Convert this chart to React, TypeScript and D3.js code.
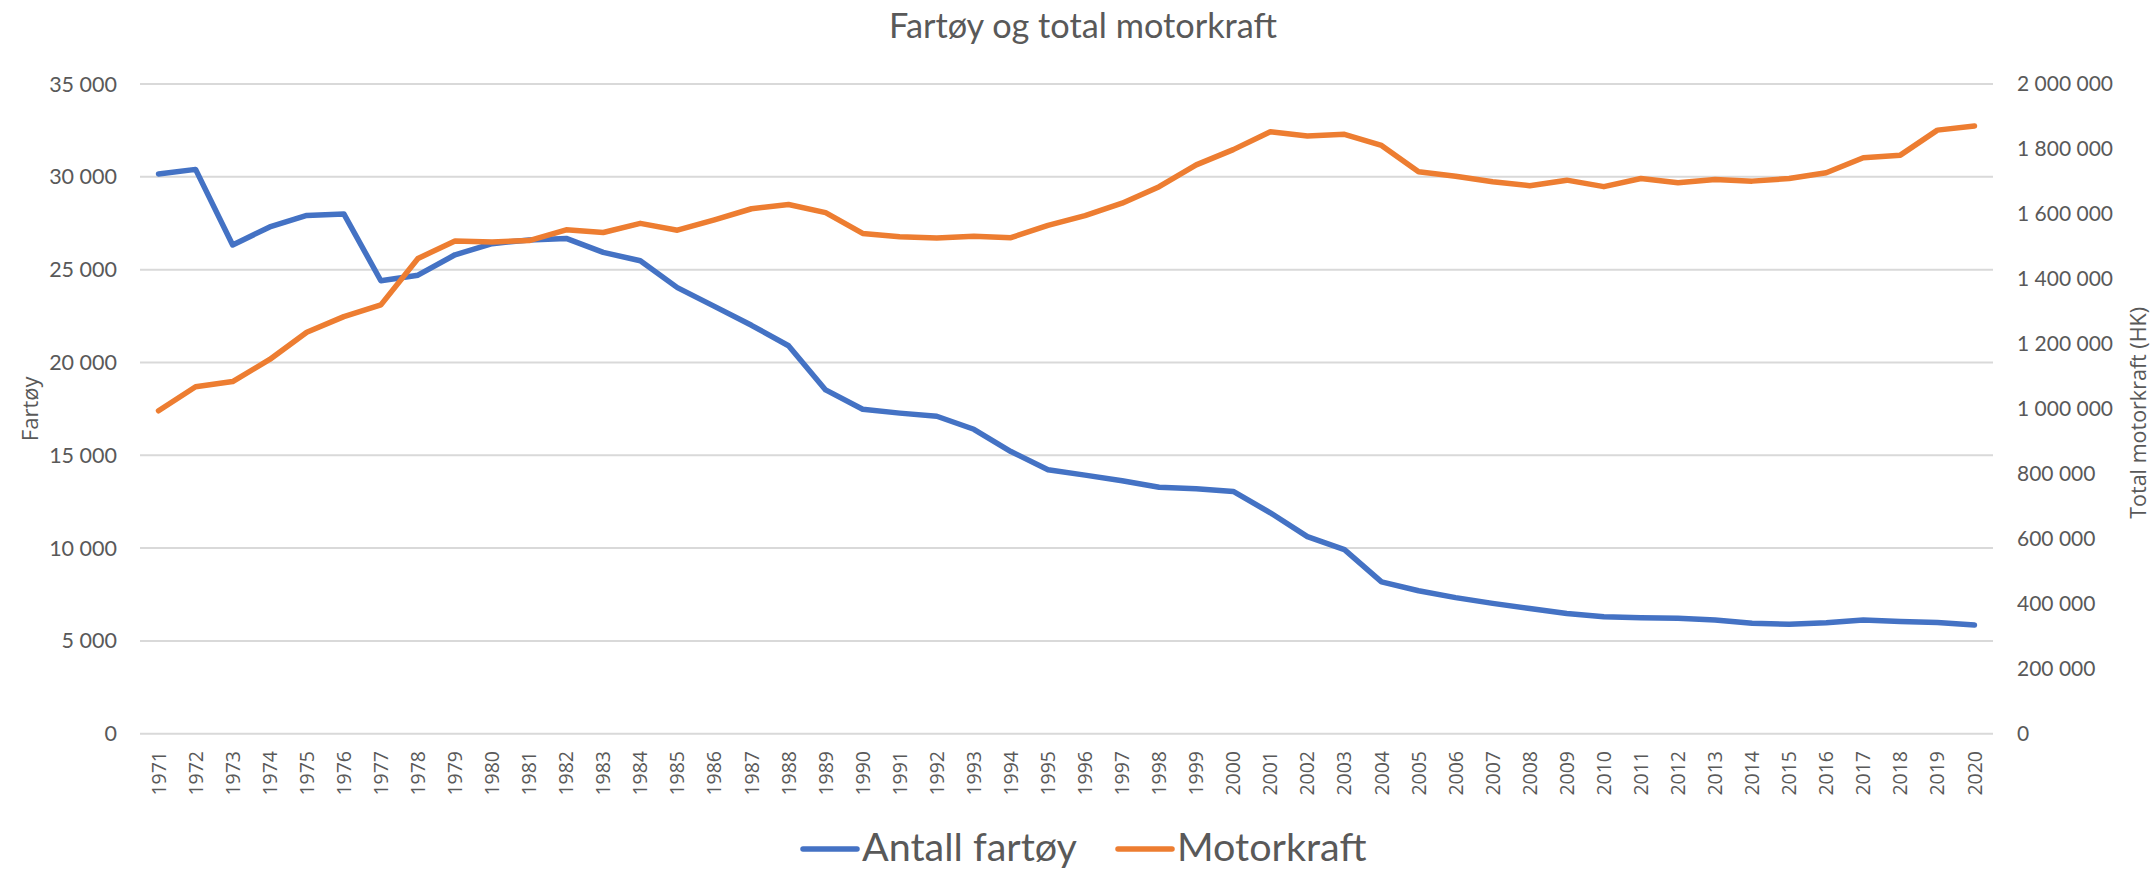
import React from "react";
import * as d3 from "d3";

const years: string[] = [
  "1971","1972","1973","1974","1975","1976","1977","1978","1979","1980",
  "1981","1982","1983","1984","1985","1986","1987","1988","1989","1990",
  "1991","1992","1993","1994","1995","1996","1997","1998","1999","2000",
  "2001","2002","2003","2004","2005","2006","2007","2008","2009","2010",
  "2011","2012","2013","2014","2015","2016","2017","2018","2019","2020",
];

const antallFartoy: number[] = [
  30150, 30400, 26330, 27300, 27920, 28000, 24400, 24700, 25800, 26400,
  26600, 26680, 25930, 25480, 24030, 23020, 22000, 20900, 18520, 17480,
  17270, 17100, 16400, 15200, 14220, 13930, 13630, 13280, 13200, 13050,
  11900, 10620, 9920, 8180, 7700, 7330, 7020, 6740, 6480, 6300,
  6250, 6220, 6130, 5950, 5900, 5980, 6130, 6040, 5990, 5850,
];

const motorkraft: number[] = [
  994000, 1068000, 1084000, 1152000, 1236000, 1284000, 1320000, 1463000, 1517000, 1514000,
  1518000, 1551000, 1543000, 1571000, 1550000, 1582000, 1616000, 1629000, 1604000, 1540000,
  1530000, 1526000, 1531000, 1527000, 1565000, 1595000, 1633000, 1684000, 1751000, 1798000,
  1853000, 1840000, 1845000, 1811000, 1730000, 1716000, 1699000, 1687000, 1704000, 1684000,
  1709000, 1696000, 1706000, 1701000, 1709000, 1727000, 1773000, 1781000, 1858000, 1871000,
];

const leftTicks: number[] = [0, 5000, 10000, 15000, 20000, 25000, 30000, 35000];
const rightTicks: number[] = [0, 200000, 400000, 600000, 800000, 1000000, 1200000, 1400000, 1600000, 1800000, 2000000];

const seriesNames: string[] = ["Antall fartøy", "Motorkraft"];
const seriesColors: string[] = ["#4472C4", "#ED7D31"];

const W = 2153;
const H = 869;
const M = { left: 140, right: 160, top: 84, bottom: 135.3 };
const TEXT = "#595959";
const CAL = "Lato, 'Noto Sans', sans-serif";
const SEG = "'Open Sans', 'Noto Sans', sans-serif";

const fmt = (v: number) => d3.format(",")(v).replace(/,/g, " ");

export default function App() {
  const x = d3
    .scaleBand<string>()
    .domain(years)
    .range([M.left, W - M.right])
    .paddingInner(0)
    .paddingOuter(0);
  const yL = d3.scaleLinear().domain([0, 35000]).range([H - M.bottom, M.top]);
  const yR = d3.scaleLinear().domain([0, 2000000]).range([H - M.bottom, M.top]);
  const cx = (d: string) => (x(d) as number) + x.bandwidth() / 2;

  const lineL = d3
    .line<number>()
    .x((_, i) => cx(years[i]))
    .y((d) => yL(d));
  const lineR = d3
    .line<number>()
    .x((_, i) => cx(years[i]))
    .y((d) => yR(d));

  const plotL = M.left;
  const plotR = W - M.right;
  const plotMidY = (M.top + H - M.bottom) / 2;

  return (
    <svg
      width={W}
      height={H}
      style={{ position: "absolute", left: 0, top: 0, background: "#fff" }}
    >
      <rect x={0} y={0} width={W} height={H} fill="#fff" />
      {/* title */}
      <text
        x={1083}
        y={38}
        textAnchor="middle"
        fontFamily={CAL}
        fontSize={34.3}
        fill={TEXT}
      >
        Fartøy og total motorkraft
      </text>

      {/* gridlines */}
      {leftTicks.map((t) => (
        <line
          key={"g" + t}
          x1={plotL}
          x2={plotR}
          y1={yL(t)}
          y2={yL(t)}
          stroke="#D9D9D9"
          strokeWidth={2}
        />
      ))}

      {/* left tick labels */}
      {leftTicks.map((t) => (
        <text
          key={"l" + t}
          x={117}
          y={yL(t)}
          dy="0.35em"
          textAnchor="end"
          fontFamily={CAL}
          fontSize={21.5}
          fill={TEXT}
        >
          {fmt(t)}
        </text>
      ))}

      {/* right tick labels */}
      {rightTicks.map((t) => (
        <text
          key={"r" + t}
          x={2017}
          y={yR(t)}
          dy="0.35em"
          textAnchor="start"
          fontFamily={CAL}
          fontSize={21}
          fill={TEXT}
        >
          {fmt(t)}
        </text>
      ))}

      {/* year labels */}
      {years.map((yr) => (
        <text
          key={"y" + yr}
          transform={`translate(${cx(yr)},751) rotate(-90)`}
          dy="0.36em"
          textAnchor="end"
          fontFamily={SEG}
          fontSize={19.5}
          fill={TEXT}
        >
          {yr}
        </text>
      ))}

      {/* axis titles */}
      <text
        transform={`translate(30,${plotMidY}) rotate(-90)`}
        dy="0.35em"
        textAnchor="middle"
        fontFamily={SEG}
        fontSize={22}
        fill={TEXT}
      >
        Fartøy
      </text>
      <text
        transform={`translate(2138,${plotMidY + 4}) rotate(-90)`}
        dy="0.35em"
        textAnchor="middle"
        fontFamily={SEG}
        fontSize={21.5}
        fill={TEXT}
      >
        Total motorkraft (HK)
      </text>

      {/* series */}
      <path
        d={lineL(antallFartoy) || ""}
        fill="none"
        stroke={seriesColors[0]}
        strokeWidth={5.5}
        strokeLinejoin="round"
        strokeLinecap="round"
      />
      <path
        d={lineR(motorkraft) || ""}
        fill="none"
        stroke={seriesColors[1]}
        strokeWidth={5.5}
        strokeLinejoin="round"
        strokeLinecap="round"
      />

      {/* legend */}
      <g>
        <line x1={803} x2={857} y1={849} y2={849} stroke={seriesColors[0]} strokeWidth={5.5} strokeLinecap="round" />
        <text x={862} y={861} fontFamily={CAL} fontSize={39.5} fill={TEXT}>
          {seriesNames[0]}
        </text>
        <line x1={1118} x2={1172} y1={849} y2={849} stroke={seriesColors[1]} strokeWidth={5.5} strokeLinecap="round" />
        <text x={1177} y={861} fontFamily={CAL} fontSize={39.5} fill={TEXT}>
          {seriesNames[1]}
        </text>
      </g>
    </svg>
  );
}
